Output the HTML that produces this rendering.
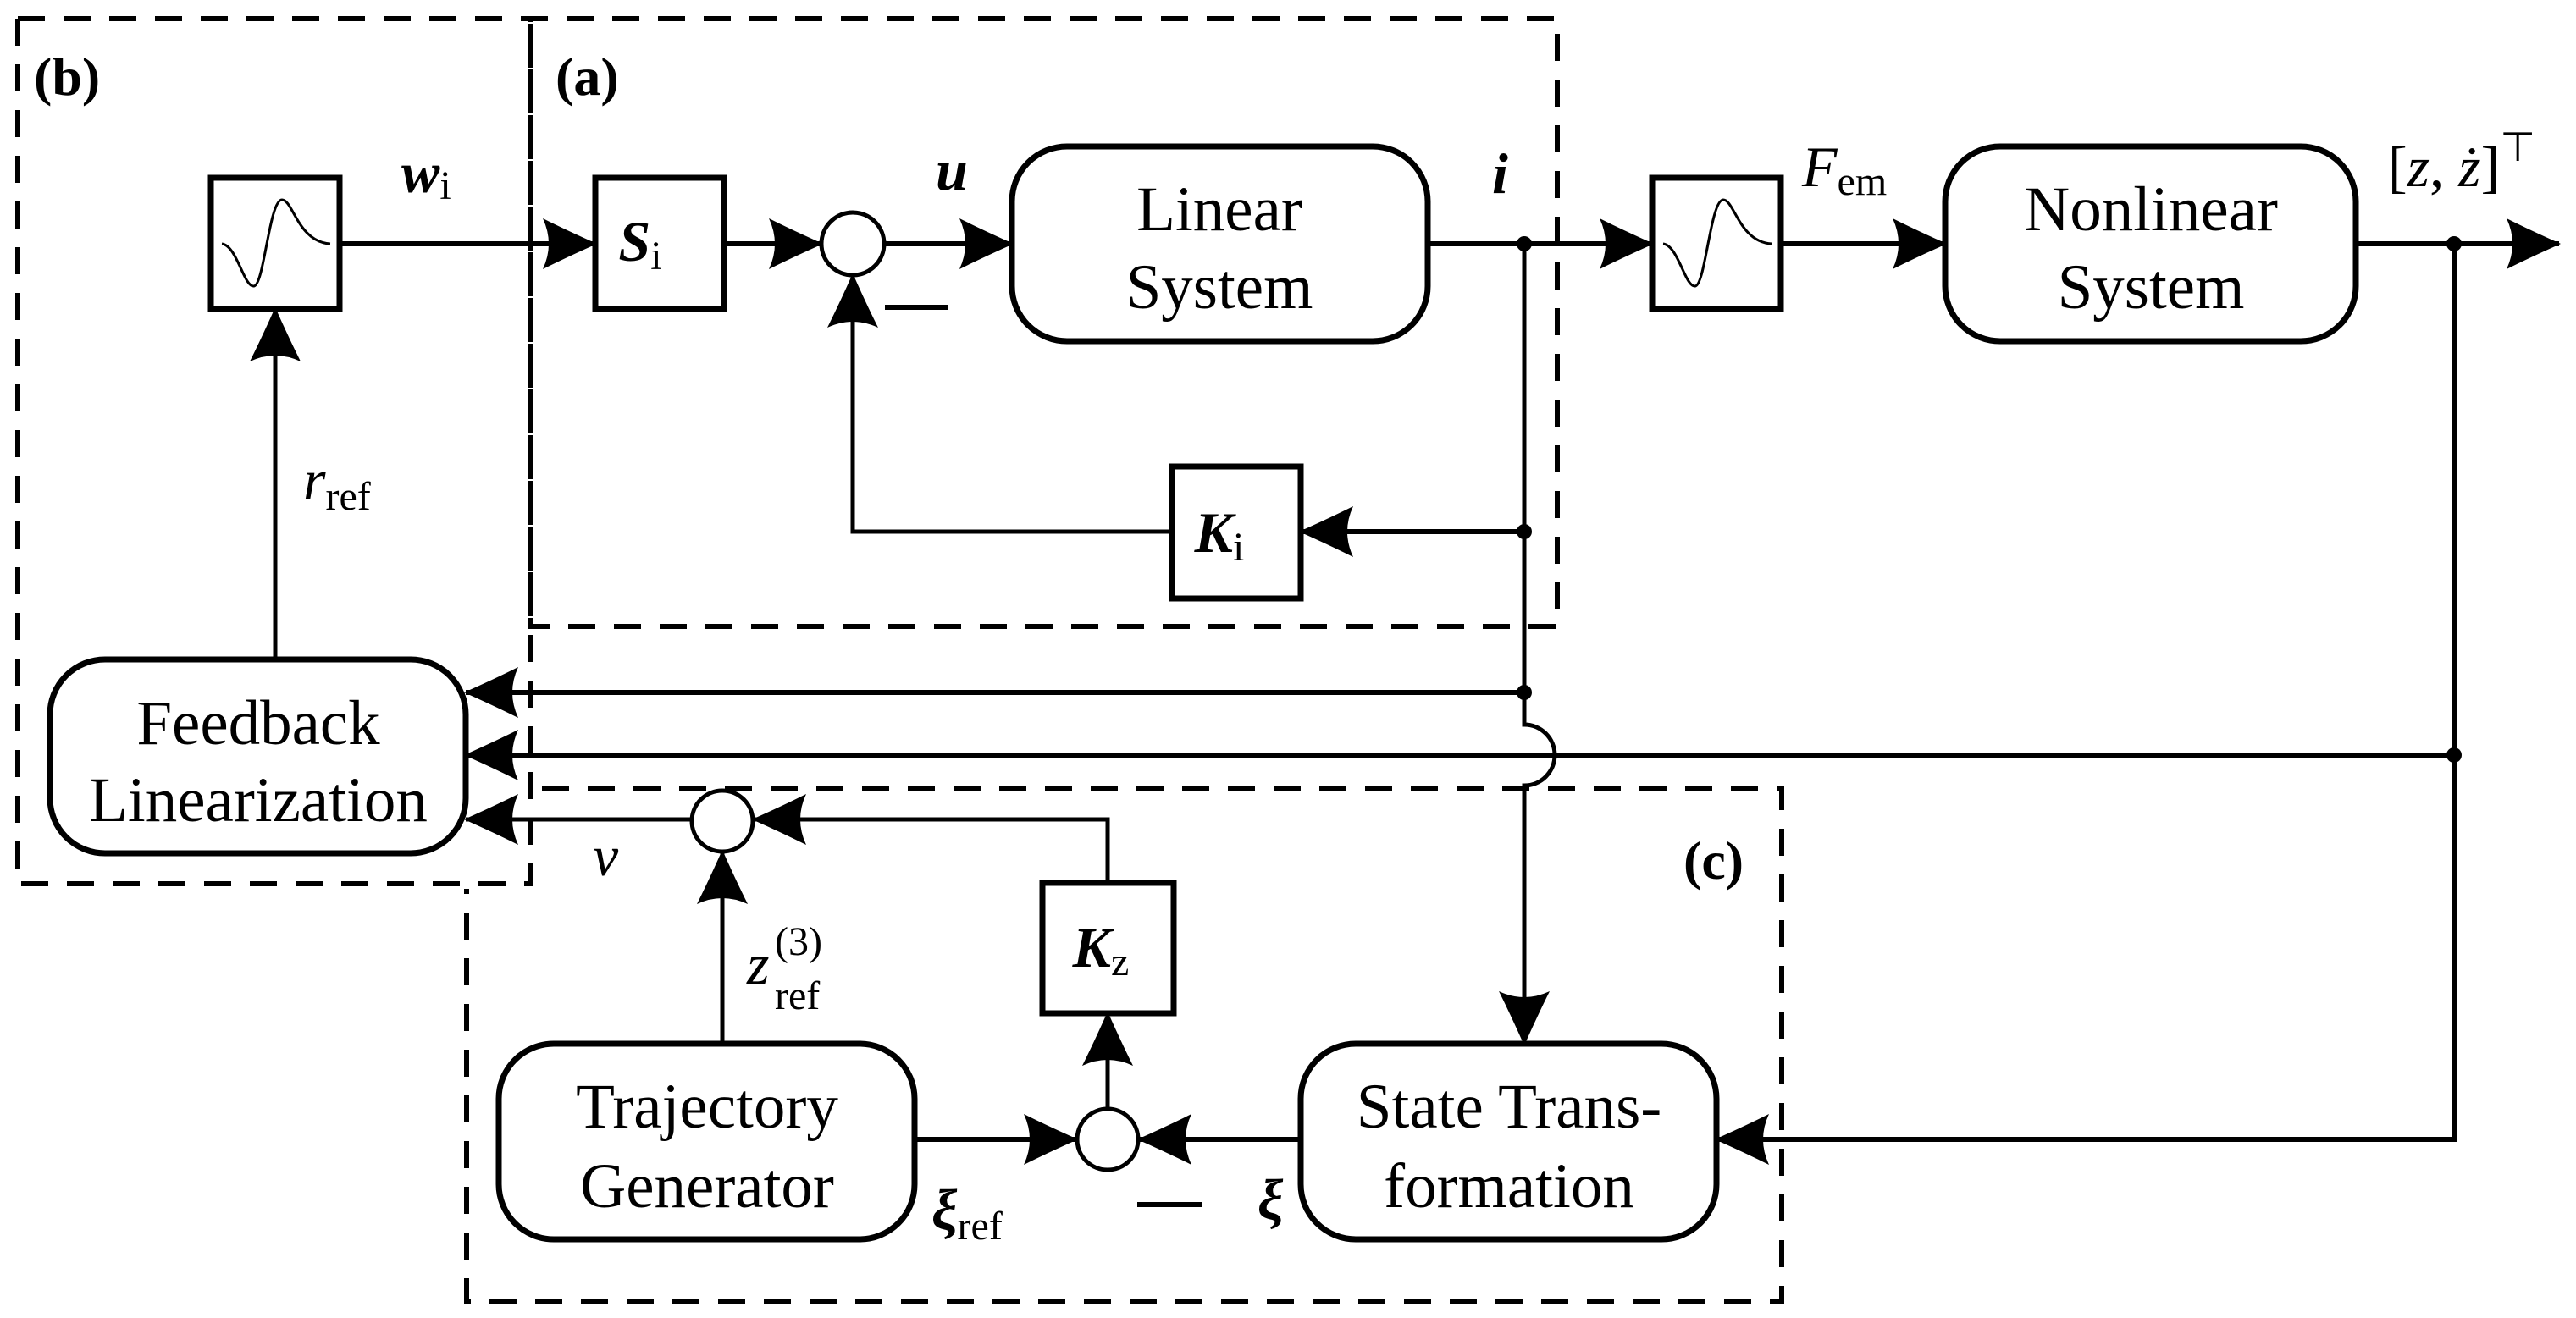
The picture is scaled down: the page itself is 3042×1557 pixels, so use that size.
<!DOCTYPE html>
<html><head><meta charset="utf-8"><style>
html,body{margin:0;padding:0;background:#fff}
svg{display:block}
text{font-family:"Liberation Serif",serif;fill:#000}
</style></head><body>
<svg width="3042" height="1557" viewBox="0 0 3042 1557" xmlns="http://www.w3.org/2000/svg">
<defs>
<marker id="a" viewBox="0 0 70 60" refX="68" refY="30" markerWidth="70" markerHeight="60" markerUnits="userSpaceOnUse" orient="auto">
<path d="M70,30 Q34,14 6,0 Q20,30 6,60 Q34,46 70,30 Z" fill="#000"/>
</marker>
</defs>
<g fill="none" stroke="#000" stroke-width="6" stroke-dasharray="32,22">
<path d="M21,22 H1839 V740 H627 V22"/>
<path d="M21,22 V1044 H627 V22"/>
<path d="M640,931 H2104 V1537 H551 V1050"/>
</g>
<g fill="none" stroke="#000" stroke-width="7">
<rect x="249" y="210" width="152" height="155"/>
<rect x="703" y="210" width="152" height="155"/>
<rect x="1951" y="210" width="152" height="155"/>
<rect x="1384" y="551" width="152" height="156"/>
<rect x="1231" y="1043" width="155" height="154"/>
<rect x="1195" y="173" width="491" height="230" rx="65"/>
<rect x="2297" y="173" width="485" height="230" rx="65"/>
<rect x="59" y="779" width="491" height="229" rx="65"/>
<rect x="589" y="1233" width="491" height="231" rx="65"/>
<rect x="1536" y="1233" width="491" height="231" rx="65"/>
<circle cx="1007" cy="288" r="37" stroke-width="5"/>
<circle cx="853" cy="970" r="36" stroke-width="5"/>
<circle cx="1308" cy="1346" r="36" stroke-width="5"/>
</g>
<g fill="none" stroke="#000" stroke-width="3">
<path d="M262,288 C280,290 288,340 300,338 C312,336 318,236 333,236 C346,236 352,286 390,288"/>
<path d="M1964,288 C1982,290 1990,340 2002,338 C2014,336 2020,236 2035,236 C2048,236 2054,286 2092,288"/>
</g>
<g fill="none" stroke="#000" stroke-width="6" marker-end="url(#a)">
<path d="M401,288 H703"/>
<path d="M855,288 H970"/>
<path d="M1045,288 H1195"/>
<path d="M1686,288 H1951"/>
<path d="M2104,288 H2297"/>
<path d="M2782,288 H3022"/>
<path d="M1800,628 H1536"/>
<path d="M1800,818 H550"/>
<path d="M2898,892 H550"/>
<path d="M2898,288 V1346 H2027"/>
<path d="M1080,1346 H1271"/>
<path d="M1536,1346 H1345"/>
</g>
<g fill="none" stroke="#000" stroke-width="5" marker-end="url(#a)">
<path d="M1800,288 V856 A36,36 0 0 1 1800,928 V1233"/>
<path d="M1384,628 H1007 V325"/>
<path d="M325,779 V365"/>
<path d="M818,968 H550"/>
<path d="M1308,1043 V968 H890"/>
<path d="M853,1233 V1006"/>
<path d="M1308,1310 V1197"/>
</g>
<g fill="#000">
<ellipse cx="1800" cy="288" rx="9" ry="9"/>
<ellipse cx="1800" cy="628" rx="9" ry="9"/>
<ellipse cx="1800" cy="818" rx="9" ry="9"/>
<ellipse cx="2898" cy="288" rx="9" ry="9"/>
<ellipse cx="2898" cy="892" rx="9" ry="9"/>
<rect x="1045" y="360" width="75" height="6"/>
<rect x="1343" y="1420" width="76" height="6"/>
</g>
<g font-size="64" font-weight="bold">
<text x="40" y="112">(b)</text>
<text x="656" y="112">(a)</text>
<text x="1988" y="1038">(c)</text>
</g>
<g font-size="75" text-anchor="middle">
<text x="1440" y="272">Linear</text>
<text x="1440" y="364">System</text>
<text x="2540" y="272">Nonlinear</text>
<text x="2540" y="364">System</text>
<text x="305" y="879">Feedback</text>
<text x="305" y="970">Linearization</text>
<text x="835" y="1332">Trajectory</text>
<text x="835" y="1426">Generator</text>
<text x="1782" y="1332">State Trans-</text>
<text x="1782" y="1426">formation</text>
</g>
<g font-size="68">
<text x="474" y="227" font-style="italic" font-weight="bold">w<tspan font-size="48" font-style="normal" font-weight="normal" dy="8">i</tspan></text>
<text x="1105" y="224" font-style="italic" font-weight="bold">u</text>
<text x="1762" y="228" font-style="italic" font-weight="bold">i</text>
<text x="756" y="308" text-anchor="middle" font-style="italic" font-weight="bold">S<tspan font-size="48" font-style="normal" font-weight="normal" dy="10">i</tspan></text>
<text x="1440" y="652" text-anchor="middle" font-style="italic" font-weight="bold">K<tspan font-size="48" font-style="normal" font-weight="normal" dy="10">i</tspan></text>
<text x="1300" y="1142" text-anchor="middle" font-style="italic" font-weight="bold">K<tspan font-size="48" font-style="normal" font-weight="normal" dy="10">z</tspan></text>
<text x="2128" y="220" font-style="italic">F<tspan font-size="48" font-style="normal" dy="10">em</tspan></text>
<text x="2820" y="220">[<tspan font-style="italic">z</tspan>, <tspan font-style="italic">ż</tspan>]<tspan font-size="48" dy="-30">⊤</tspan></text>
<text x="358" y="590" font-style="italic">r<tspan font-size="48" font-style="normal" dy="12">ref</tspan></text>
<text x="700" y="1034" font-style="italic">ν</text>
<text x="882" y="1162" font-style="italic">z</text>
<text x="915" y="1128" font-size="48">(3)</text>
<text x="915" y="1192" font-size="48">ref</text>
<text x="1100" y="1452" font-style="italic" font-weight="bold">ξ<tspan font-size="48" font-style="normal" font-weight="normal" dy="12">ref</tspan></text>
<text x="1485" y="1440" font-style="italic" font-weight="bold">ξ</text>
</g>
</svg>
</body></html>
